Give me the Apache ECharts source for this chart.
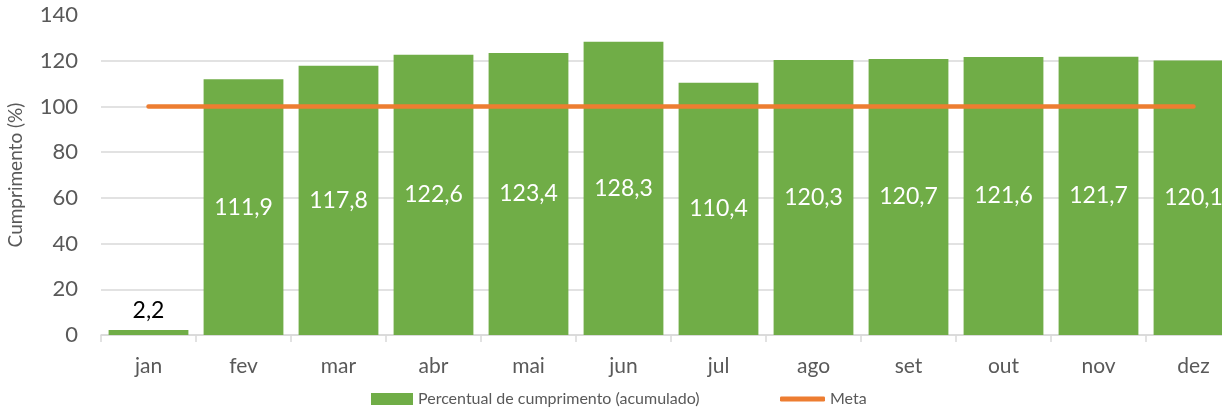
<!DOCTYPE html>
<html lang="pt">
<head>
    <meta charset="UTF-8">
    <title>Percentual de cumprimento</title>
    <script type="text/javascript" src="https://cdn.jsdelivr.net/npm/echarts@6/dist/echarts.min.js"></script>
    <style>
        html, body { margin: 0; padding: 0; background: #fff; }
    </style>
</head>
<body>
    <div id="main" style="width: 1222px; height: 408px"></div>
    <script>
        var meses = ['jan', 'fev', 'mar', 'abr', 'mai', 'jun', 'jul', 'ago', 'set', 'out', 'nov', 'dez'];
        var percentual = [2.2, 111.9, 117.8, 122.6, 123.4, 128.3, 110.4, 120.3, 120.7, 121.6, 121.7, 120.1];
        var meta = [100, 100, 100, 100, 100, 100, 100, 100, 100, 100, 100, 100];

        var fonte = 'Lato, "Open Sans", sans-serif';

        function virgula(v) {
            return v.toFixed(1).replace('.', ',');
        }

        // jan fica com o rótulo preto acima da barra
        var barras = percentual.map(function (v, i) {
            if (i === 0) {
                return {
                    value: v,
                    label: { position: 'top', color: '#000', distance: 8 }
                };
            }
            return v;
        });

        var legendaTexto = { color: '#595959', fontSize: 16, fontFamily: fonte };

        var myChart = echarts.init(document.getElementById('main'));
        myChart.setOption({
            animation: false,
            textStyle: { fontFamily: fonte },
            grid: {
                left: 101,
                top: 15,
                width: 1140,
                bottom: 73,
                outerBoundsMode: 'none'
            },
            // duas legendas: a da linha precisa de um ícone mais fino
            legend: [{
                top: 386,
                left: 366,
                itemWidth: 42,
                itemHeight: 12,
                itemGap: 4,
                textStyle: legendaTexto,
                data: [{ name: 'Percentual de cumprimento (acumulado)', icon: 'rect' }]
            }, {
                top: 386,
                left: 775,
                itemWidth: 45,
                itemHeight: 5,
                textStyle: legendaTexto,
                data: [{ name: 'Meta', icon: 'roundRect' }]
            }],
            xAxis: {
                type: 'category',
                data: meses,
                axisLine: { lineStyle: { color: '#d9d9d9', width: 1.5 } },
                axisTick: { show: true, length: 7, lineStyle: { color: '#d9d9d9', width: 1.5 } },
                axisLabel: { color: '#595959', fontSize: 21, margin: 21, fontFamily: fonte }
            },
            yAxis: {
                type: 'value',
                min: 0,
                max: 140,
                interval: 20,
                name: 'Cumprimento (%)',
                nameLocation: 'middle',
                nameGap: 76,
                nameTextStyle: { color: '#595959', fontSize: 19, fontFamily: fonte },
                axisLine: { show: false },
                axisTick: { show: false },
                axisLabel: { color: '#595959', fontSize: 22, margin: 23, fontFamily: fonte },
                // sem linha de grade no topo (140)
                splitLine: { showMaxLine: false, lineStyle: { color: '#d9d9d9', width: 1.5 } }
            },
            series: [{
                name: 'Percentual de cumprimento (acumulado)',
                type: 'bar',
                data: barras,
                barCategoryGap: '16%',
                itemStyle: { color: '#70AD47' },
                label: {
                    show: true,
                    position: 'inside',
                    color: '#fff',
                    fontSize: 23,
                    fontFamily: fonte,
                    formatter: function (p) { return virgula(p.value); }
                }
            }, {
                name: 'Meta',
                type: 'line',
                data: meta,
                symbol: 'none',
                lineStyle: { color: '#ED7D31', width: 4.5, cap: 'round' },
                itemStyle: { color: '#ED7D31' }
            }]
        });
    </script>
</body>
</html>
